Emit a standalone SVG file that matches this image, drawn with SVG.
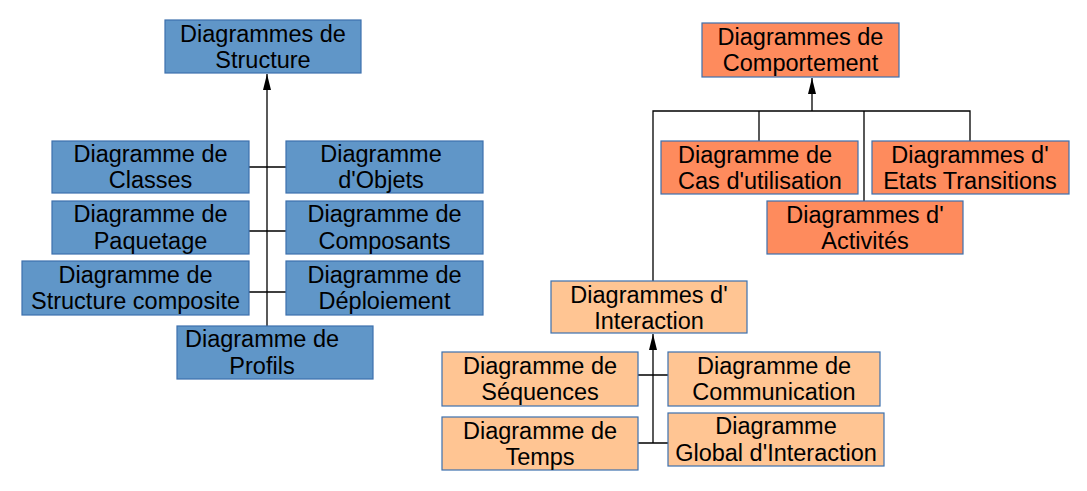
<svg xmlns="http://www.w3.org/2000/svg" width="1087" height="491" viewBox="0 0 1087 491">
<style>
.b{fill:#6096c8;stroke:#3d70ad;stroke-width:1.2}
.o{fill:#fe8b5d;stroke:#3d70ad;stroke-width:1.2}
.p{fill:#ffc593;stroke:#3d70ad;stroke-width:1.2}
text{font-family:"Liberation Sans",Arial,sans-serif;font-size:23.5px;fill:#000;text-anchor:middle}
.c{fill:none;stroke:#000;stroke-width:1.3}
</style>
<defs>
<marker id="ar" viewBox="0 0 16 8" refX="16" refY="4" markerWidth="16" markerHeight="8" markerUnits="userSpaceOnUse" orient="auto">
<path d="M0,0 L16,4 L0,8 Z" fill="#000"/>
</marker>
</defs>
<rect width="1087" height="491" fill="#fff"/>
<g id="connectors">
<path class="c" d="M267,326 V74" marker-end="url(#ar)"/>
<path class="c" d="M249,167 H286 M249,231 H286 M249,292 H286"/>
<path class="c" d="M812,111 V78" marker-end="url(#ar)"/>
<path class="c" d="M653,281 V111 H970 V141 M759,111 V141 M864,111 V201"/>
<path class="c" d="M653,443 V334" marker-end="url(#ar)"/>
<path class="c" d="M638,375 H668 M638,443 H668"/>
</g>
<g id="structure">
<rect class="b" x="165" y="20" width="196" height="53"/>
<text x="263" y="42">Diagrammes de</text><text x="263" y="68">Structure</text>
</g>
<g id="classes">
<rect class="b" x="52" y="141" width="197" height="52"/>
<text x="150.5" y="162">Diagramme de</text><text x="150.5" y="188">Classes</text>
</g>
<g id="objets">
<rect class="b" x="286" y="141" width="197" height="52"/>
<text x="381" y="162">Diagramme</text><text x="381" y="188">d'Objets</text>
</g>
<g id="paquetage">
<rect class="b" x="52" y="201" width="197" height="53"/>
<text x="150.5" y="222">Diagramme de</text><text x="150.5" y="249">Paquetage</text>
</g>
<g id="composants">
<rect class="b" x="286" y="201" width="197" height="53"/>
<text x="384.5" y="222">Diagramme de</text><text x="384.5" y="249">Composants</text>
</g>
<g id="structure-composite">
<rect class="b" x="22" y="261" width="227" height="54"/>
<text x="135.5" y="283">Diagramme de</text><text x="135.5" y="309">Structure composite</text>
</g>
<g id="deploiement">
<rect class="b" x="286" y="261" width="197" height="54"/>
<text x="384.5" y="283">Diagramme de</text><text x="384.5" y="309">Déploiement</text>
</g>
<g id="profils">
<rect class="b" x="177" y="326" width="196" height="53"/>
<text x="262" y="347">Diagramme de</text><text x="262" y="374">Profils</text>
</g>
<g id="comportement">
<rect class="o" x="702" y="23" width="197" height="54"/>
<text x="800.5" y="45">Diagrammes de</text><text x="800.5" y="71">Comportement</text>
</g>
<g id="cas-utilisation">
<rect class="o" x="661" y="141" width="197" height="53"/>
<text x="755" y="163">Diagramme de</text><text x="760" y="189">Cas d'utilisation</text>
</g>
<g id="etats-transitions">
<rect class="o" x="872" y="141" width="197" height="53"/>
<text x="970" y="163">Diagrammes d'</text><text x="970" y="189">Etats Transitions</text>
</g>
<g id="activites">
<rect class="o" x="767" y="201" width="196" height="53"/>
<text x="865" y="223">Diagrammes d'</text><text x="865" y="249">Activités</text>
</g>
<g id="interaction">
<rect class="p" x="551" y="281" width="196" height="52"/>
<text x="649" y="303">Diagrammes d'</text><text x="649" y="329">Interaction</text>
</g>
<g id="sequences">
<rect class="p" x="442" y="352" width="196" height="54"/>
<text x="540" y="374">Diagramme de</text><text x="540" y="400">Séquences</text>
</g>
<g id="communication">
<rect class="p" x="668" y="352" width="212" height="54"/>
<text x="774" y="374">Diagramme de</text><text x="774" y="400">Communication</text>
</g>
<g id="temps">
<rect class="p" x="442" y="417" width="196" height="53"/>
<text x="540" y="439">Diagramme de</text><text x="540" y="465">Temps</text>
</g>
<g id="global-interaction">
<rect class="p" x="668" y="413" width="216" height="53"/>
<text x="776" y="434">Diagramme</text><text x="776" y="461">Global d'Interaction</text>
</g>
</svg>
